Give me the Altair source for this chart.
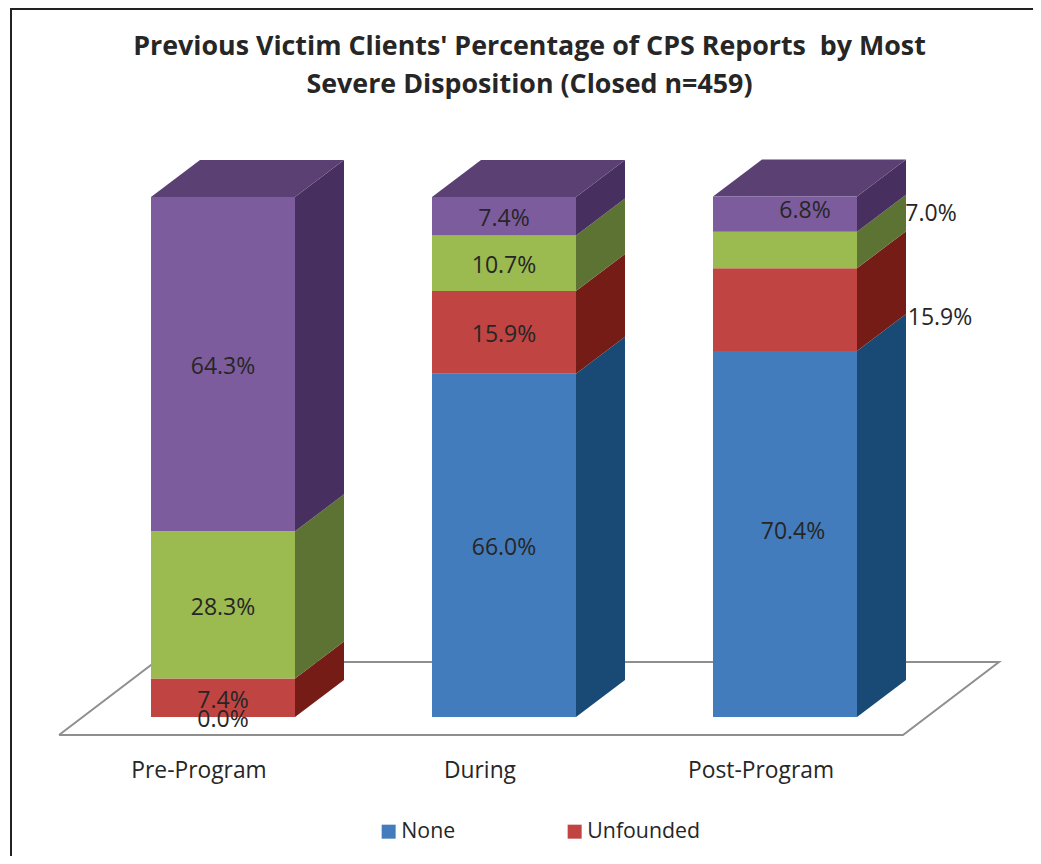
import altair as alt
import pandas as pd

# ---- values
PERIODS = ["Pre-Program", "During", "Post-Program"]
SERIES = ["None", "Unfounded", "Series 3", "Series 4"]
NONE_V = [0.0, 66.0, 70.4]
UNFOUNDED_V = [7.4, 15.9, 15.9]
THIRD_V = [28.3, 10.7, 7.0]
FOURTH_V = [64.3, 7.4, 6.8]
TITLE = ["Previous Victim Clients' Percentage of CPS Reports\u00a0 by Most",
         "Severe Disposition (Closed n=459)"]
LEGEND_ENTRIES = ["None", "Unfounded"]

# ---- styles
FRONT = ["#437CBC", "#BF4442", "#9BBA50", "#7D5C9E"]
SIDE = ["#184A75", "#751C17", "#5D7333", "#472F60"]
TOP_COLOR = "#5B4074"
TEXT = "#262626"
FONT = "Open Sans"

# ---- geometry of the fake 3D view (pixels per data unit)
W, H = 1025, 848
PX_X, PX_Y = 281.0, 5.2
ORIGIN_X, ORIGIN_Y = 215.0, 709.0        # chart pixels of x=0, y=0
BAR_W = 144 / PX_X
DX, DY = 49 / PX_X, 37 / PX_Y
x_scale = alt.Scale(domain=[-ORIGIN_X / PX_X, (W - ORIGIN_X) / PX_X], nice=False, zero=False)
y_scale = alt.Scale(domain=[(ORIGIN_Y - H) / PX_Y, ORIGIN_Y / PX_Y], nice=False, zero=False)
X_ENC = dict(scale=x_scale, axis=None)

# label offsets (pixels) for each period / series, where moved by hand in the original
LABEL_OFFSETS = {(2, 0): (8, -2), (2, 1): (155, 8), (2, 2): (146, -36), (2, 3): (20, -3)}

columns = [NONE_V, UNFOUNDED_V, THIRD_V, FOURTH_V]
front, side, labels, tops = [], [], [], []
for p in range(len(PERIODS)):
    base = 0.0
    for s, name in enumerate(SERIES):
        v = columns[s][p]
        x0, x1 = p - BAR_W / 2, p + BAR_W / 2
        front.append(dict(series=name, x0=x0, x1=x1, y0=base, y1=base + v))
        key = f"{p}-{s}"
        side.append(dict(k=key, c=SIDE[s], x=x1, top=base + v, bot=base))
        side.append(dict(k=key, c=SIDE[s], x=x1 + DX, top=base + v + DY, bot=base + DY))
        ox, oy = LABEL_OFFSETS.get((p, s), (0, 3))
        labels.append(dict(x=p + ox / PX_X, y=base + v / 2 - oy / PX_Y, t=f"{v:.1f}%"))
        base += v
    tops += [dict(k=p, x=x0, a=base, b=base),
             dict(k=p, x=x0 + DX, a=base, b=base + DY),
             dict(k=p, x=x1, a=base, b=base + DY),
             dict(k=p, x=x1 + DX, a=base + DY, b=base + DY)]

floor = pd.DataFrame([
    dict(o=0, x=(59 - 223) / PX_X, y=-18 / PX_Y),
    dict(o=1, x=(903 - 223) / PX_X, y=-18 / PX_Y),
    dict(o=2, x=(999 - 223) / PX_X, y=55 / PX_Y),
    dict(o=3, x=(155 - 223) / PX_X, y=55 / PX_Y),
    dict(o=4, x=(59 - 223) / PX_X, y=-18 / PX_Y),
])

floor_layer = alt.Chart(floor).mark_line(color="#8F8F8F", strokeWidth=2, strokeJoin="miter", clip=False).encode(
    x=alt.X("x:Q", **X_ENC), y=alt.Y("y:Q", scale=y_scale, axis=None), order="o:Q")

frame_v = alt.Chart(pd.DataFrame({"a": [0]})).mark_rule(color="#222222", strokeWidth=2).encode(
    x=alt.value(3), y=alt.value(0), y2=alt.value(H))
frame_h = alt.Chart(pd.DataFrame({"a": [0]})).mark_rule(color="#222222", strokeWidth=2).encode(
    x=alt.value(3), x2=alt.value(W), y=alt.value(1))

side_layer = alt.Chart(pd.DataFrame(side)).mark_area(opacity=1).encode(
    x=alt.X("x:Q", **X_ENC), y=alt.Y("top:Q", scale=y_scale, axis=None), y2="bot:Q",
    detail="k:N", color=alt.Color("c:N", scale=None, legend=None))

top_layer = alt.Chart(pd.DataFrame(tops)).mark_area(color=TOP_COLOR, opacity=1).encode(
    x=alt.X("x:Q", **X_ENC), y=alt.Y("a:Q", scale=y_scale, axis=None), y2="b:Q", detail="k:N")

front_layer = alt.Chart(pd.DataFrame(front)).mark_bar(opacity=1).encode(
    x=alt.X("x0:Q", **X_ENC), x2="x1:Q",
    y=alt.Y("y0:Q", scale=y_scale, axis=None), y2="y1:Q",
    color=alt.Color("series:N",
                    scale=alt.Scale(domain=SERIES, range=FRONT),
                    legend=alt.Legend(title=None, values=LEGEND_ENTRIES, orient="none",
                                      legendX=370, legendY=813, direction="horizontal", columns=2,
                                      columnPadding=108, symbolType="square", symbolSize=196,
                                      symbolStrokeWidth=0, labelOffset=2, labelFont=FONT,
                                      labelFontSize=21.3, labelColor=TEXT, padding=0)))

label_layer = alt.Chart(pd.DataFrame(labels)).mark_text(font=FONT, fontSize=23, color=TEXT, baseline="middle").encode(
    x=alt.X("x:Q", **X_ENC), y=alt.Y("y:Q", scale=y_scale, axis=None), text="t:N")

cats = pd.DataFrame({"p": PERIODS, "x": [i - 24 / PX_X for i in range(len(PERIODS))]})
cat_layer = alt.Chart(cats).mark_text(font=FONT, fontSize=22.8, color=TEXT, baseline="middle").encode(
    x=alt.X("x:Q", **X_ENC), y=alt.value(763), text="p:N")

chart = alt.layer(floor_layer, frame_v, frame_h, side_layer, top_layer, front_layer, label_layer, cat_layer
    ).resolve_scale(color="independent").properties(
    width=W, height=H, padding=0, autosize=alt.AutoSizeParams(type="none"),
    title=alt.TitleParams(text=TITLE, font=FONT, fontSize=26.8, fontWeight="bold", color=TEXT,
                          anchor="middle", dx=9, offset=-92, lineHeight=38),
).configure_view(stroke=None)

chart.save("out.html", embed_options={"renderer": "svg", "actions": False})
